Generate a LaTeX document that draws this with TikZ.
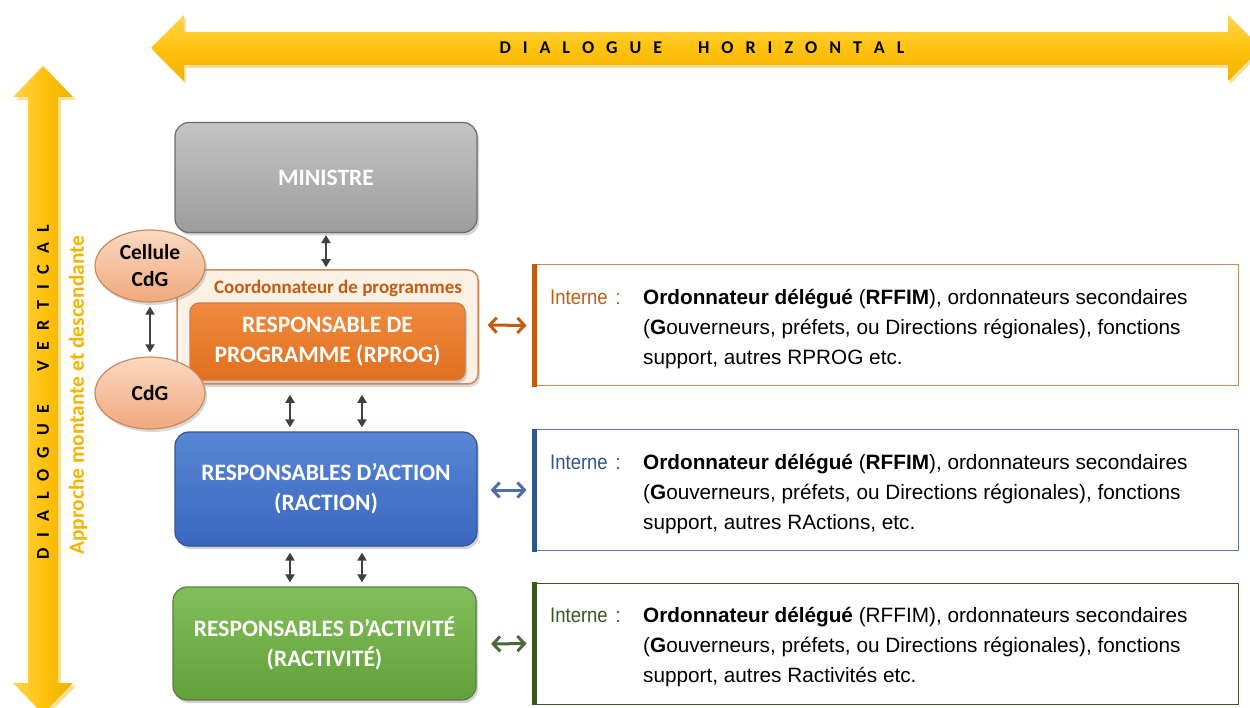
\documentclass[tikz,border=0pt]{standalone}
\usepackage{fontspec}
\setmainfont{Carlito}
\newfontfamily\arialfont{Liberation Sans}
\newfontfamily\narrowfont[FakeStretch=0.88]{Liberation Sans}
\usetikzlibrary{shapes.geometric,arrows.meta,shadows,calc}
\definecolor{goldL}{HTML}{FFD54F}
\definecolor{goldM}{HTML}{FFC20E}
\definecolor{goldD}{HTML}{EDB200}
\definecolor{approche}{HTML}{F5B400}
\definecolor{orangeA}{HTML}{F08A40}
\definecolor{orangeB}{HTML}{E0701F}
\definecolor{orangeD}{HTML}{C55A11}
\definecolor{orangeBorder}{HTML}{C98A5C}
\definecolor{peachL}{HTML}{FDF1E6}
\definecolor{blueA}{HTML}{5A86D6}
\definecolor{blueB}{HTML}{3A66BE}
\definecolor{blueD}{HTML}{2F5597}
\definecolor{greenA}{HTML}{82BF58}
\definecolor{greenB}{HTML}{62A03A}
\definecolor{greenD}{HTML}{385723}
\definecolor{grayA}{HTML}{C4C4C4}
\definecolor{grayB}{HTML}{9C9C9C}
\definecolor{ellA}{HTML}{FBD9C2}
\definecolor{ellB}{HTML}{F0A97C}
\definecolor{darkarrow}{HTML}{404040}
\tikzset{
  mainbox/.style={rounded corners=14pt, minimum width=302pt, minimum height=110pt,
    line width=1.2pt, text=white, align=center, font=\fontsize{23.5}{30}\selectfont\bfseries,
    drop shadow={shadow xshift=2pt, shadow yshift=-3pt, opacity=0.35}},
  cdgell/.style={ellipse, minimum width=110pt, minimum height=72pt, draw=orangeBorder,
    line width=1.2pt, top color=ellA, bottom color=ellB, align=center, inner sep=0pt,
    font=\fontsize{21.5}{27}\selectfont\bfseries,
    drop shadow={shadow xshift=2pt, shadow yshift=-3pt, opacity=0.3}},
  infobox/.style={draw=#1, line width=1pt, minimum width=703pt, minimum height=121pt, inner sep=0pt},
  vlink/.style={{Triangle[length=8pt,width=9pt]}-{Triangle[length=8pt,width=9pt]}, line width=2pt, darkarrow},
  hlink/.style={{Straight Barb[length=7pt,width=15pt,line width=3pt]}-{Straight Barb[length=7pt,width=15pt,line width=3pt]}, line width=3pt, #1},
  interne/.style={anchor=base west, inner sep=0pt, font=\narrowfont\fontsize{21}{30}\selectfont, text=#1},
  infotext/.style={anchor=base west, inner sep=0pt, align=left, font=\arialfont\fontsize{20.75}{30}\selectfont}
}
\begin{document}
\begin{tikzpicture}[x=1pt,y=-1pt]
\useasboundingbox (0,0) rectangle (1250,708);
\clip (0,0) rectangle (1250,708);

% horizontal big arrow
\fill[goldD, opacity=0.4] (153,51) -- (186,18) -- (186,35) -- (1230,35) -- (1230,18) -- (1263,51) -- (1230,84) -- (1230,68) -- (186,68) -- (186,84) -- cycle;
\shade[top color=goldL, bottom color=goldD, middle color=goldM]
  (151,48) -- (184,15) -- (184,32) -- (1228,32) -- (1228,15) -- (1261,48) -- (1228,81) -- (1228,65) -- (184,65) -- (184,81) -- cycle;
\node (hlabel) at (702,48) {\fontsize{18}{20}\selectfont\bfseries\makebox[405pt][s]{D\hfill I\hfill A\hfill L\hfill O\hfill G\hfill U\hfill E\hfill\hfill\hfill H\hfill O\hfill R\hfill I\hfill Z\hfill O\hfill N\hfill T\hfill A\hfill L}};

% vertical big arrow
\fill[goldD, opacity=0.4] (46,69) -- (76,100) -- (61,100) -- (61,686) -- (76,686) -- (46,717) -- (16,686) -- (31,686) -- (31,100) -- (16,100) -- cycle;
\shade[left color=goldL, right color=goldD, middle color=goldM]
  (43,66) -- (73,97) -- (58,97) -- (58,683) -- (73,683) -- (43,714) -- (13,683) -- (28,683) -- (28,97) -- (13,97) -- cycle;
\node[rotate=90] (vlabel) at (43,392) {\fontsize{18}{20}\selectfont\bfseries\makebox[335pt][s]{D\hfill I\hfill A\hfill L\hfill O\hfill G\hfill U\hfill E\hfill\hfill\hfill V\hfill E\hfill R\hfill T\hfill I\hfill C\hfill A\hfill L}};
\node[rotate=90, text=approche, font=\fontsize{21.4}{24}\selectfont\bfseries] (approche) at (78,395) {Approche montante et descendante};

% main boxes
\node[mainbox, draw=gray!85!black, top color=grayA, bottom color=grayB] (ministre) at (326,177.5) {MINISTRE};
\node[rounded corners=10pt, minimum width=301pt, minimum height=114pt, draw=orangeBorder, line width=1.5pt, fill=peachL,
  drop shadow={shadow xshift=2pt, shadow yshift=-3pt, opacity=0.3}] (coord) at (327.5,327) {};
\node[text=orangeD, font=\fontsize{19}{22}\selectfont\bfseries] (coordlabel) at (338,288) {Coordonnateur de programmes};
\node[mainbox, minimum width=275pt, minimum height=77pt, rounded corners=9pt, draw=orangeD!80, top color=orangeA, bottom color=orangeB] (rprog) at (327.5,341.5) {RESPONSABLE DE\\PROGRAMME (RPROG)};
\node[mainbox, draw=blueD, top color=blueA, bottom color=blueB, minimum height=114pt] (raction) at (326,489) {RESPONSABLES D’ACTION\\(RACTION)};
\node[mainbox, draw=greenD!80, top color=greenA, bottom color=greenB, minimum width=303pt, minimum height=113pt] (ractivite) at (324.5,643.5) {RESPONSABLES D’ACTIVITÉ\\(RACTIVITÉ)};

% CdG ellipses
\node[cdgell] (cellule) at (150,266) {Cellule\\CdG};
\node[cdgell] (cdg) at (150,393) {CdG};
\draw[vlink] ($(cellule.south)+(0,4)$) -- ($(cdg.north)+(0,-4)$);

% vertical links
\draw[vlink] ($(ministre.south)+(0,2)$) -- ($(coord.north)+(-1.5,-2)$);
\coordinate (a1t) at ($(coord.south)+(-37.5,10)$);
\coordinate (a1b) at ($(raction.north)+(-36,-4)$);
\draw[vlink] (a1t) -- (a1b);
\coordinate (a2t) at ($(coord.south)+(34.5,10)$);
\coordinate (a2b) at ($(raction.north)+(36,-4)$);
\draw[vlink] (a2t) -- (a2b);
\coordinate (b1t) at ($(raction.south)+(-36,6)$);
\coordinate (b1b) at ($(ractivite.north)+(-34.5,-4)$);
\draw[vlink] (b1t) -- (b1b);
\coordinate (b2t) at ($(raction.south)+(36,6)$);
\coordinate (b2b) at ($(ractivite.north)+(37.5,-4)$);
\draw[vlink] (b2t) -- (b2b);

% info boxes
\node[infobox=orangeBorder] (i1) at (886.5,325.5) {};
\draw[orangeD, line width=5pt] ($(i1.north west)+(0,-0.5)$) -- ($(i1.south west)+(0,0.5)$);
\node[infobox=blueD!80] (i2) at (886.5,490) {};
\draw[blueD, line width=5pt] ($(i2.north west)+(0,-0.5)$) -- ($(i2.south west)+(0,0.5)$);
\node[infobox=greenD, minimum height=121pt] (i3) at (886.5,643.5) {};
\draw[greenD, line width=5pt] ($(i3.north west)+(0,-0.5)$) -- ($(i3.south west)+(0,0.5)$);

\draw[hlink=orangeD] ($(rprog.east)+(22,-16.5)$) -- ($(i1.west)+(-8,0)$);
\draw[hlink=blueD!85] ($(raction.east)+(13,1)$) -- ($(i2.west)+(-8,0)$);
\draw[hlink=greenD!90] ($(ractivite.east)+(14.5,0.5)$) -- ($(i3.west)+(-8,0)$);

\node[interne=orangeD] (int1) at (550,305) {Interne\hspace{8pt}:};
\node[infotext] (t1) at (643,365) {\textbf{Ordonnateur délégué} (\textbf{RFFIM}), ordonnateurs secondaires\\(\textbf{G}ouverneurs, préfets, ou Directions régionales), fonctions\\support, autres RPROG etc.};
\node[interne=blueD] (int2) at (550,469) {Interne\hspace{8pt}:};
\node[infotext] (t2) at (643,529) {\textbf{Ordonnateur délégué} (\textbf{RFFIM}), ordonnateurs secondaires\\(\textbf{G}ouverneurs, préfets, ou Directions régionales), fonctions\\support, autres RActions, etc.};
\node[interne=greenD] (int3) at (550,622) {Interne\hspace{8pt}:};
\node[infotext] (t3) at (643,682) {\textbf{Ordonnateur délégué} (RFFIM), ordonnateurs secondaires\\(\textbf{G}ouverneurs, préfets, ou Directions régionales), fonctions\\support, autres Ractivités etc.};
\end{tikzpicture}
\end{document}
